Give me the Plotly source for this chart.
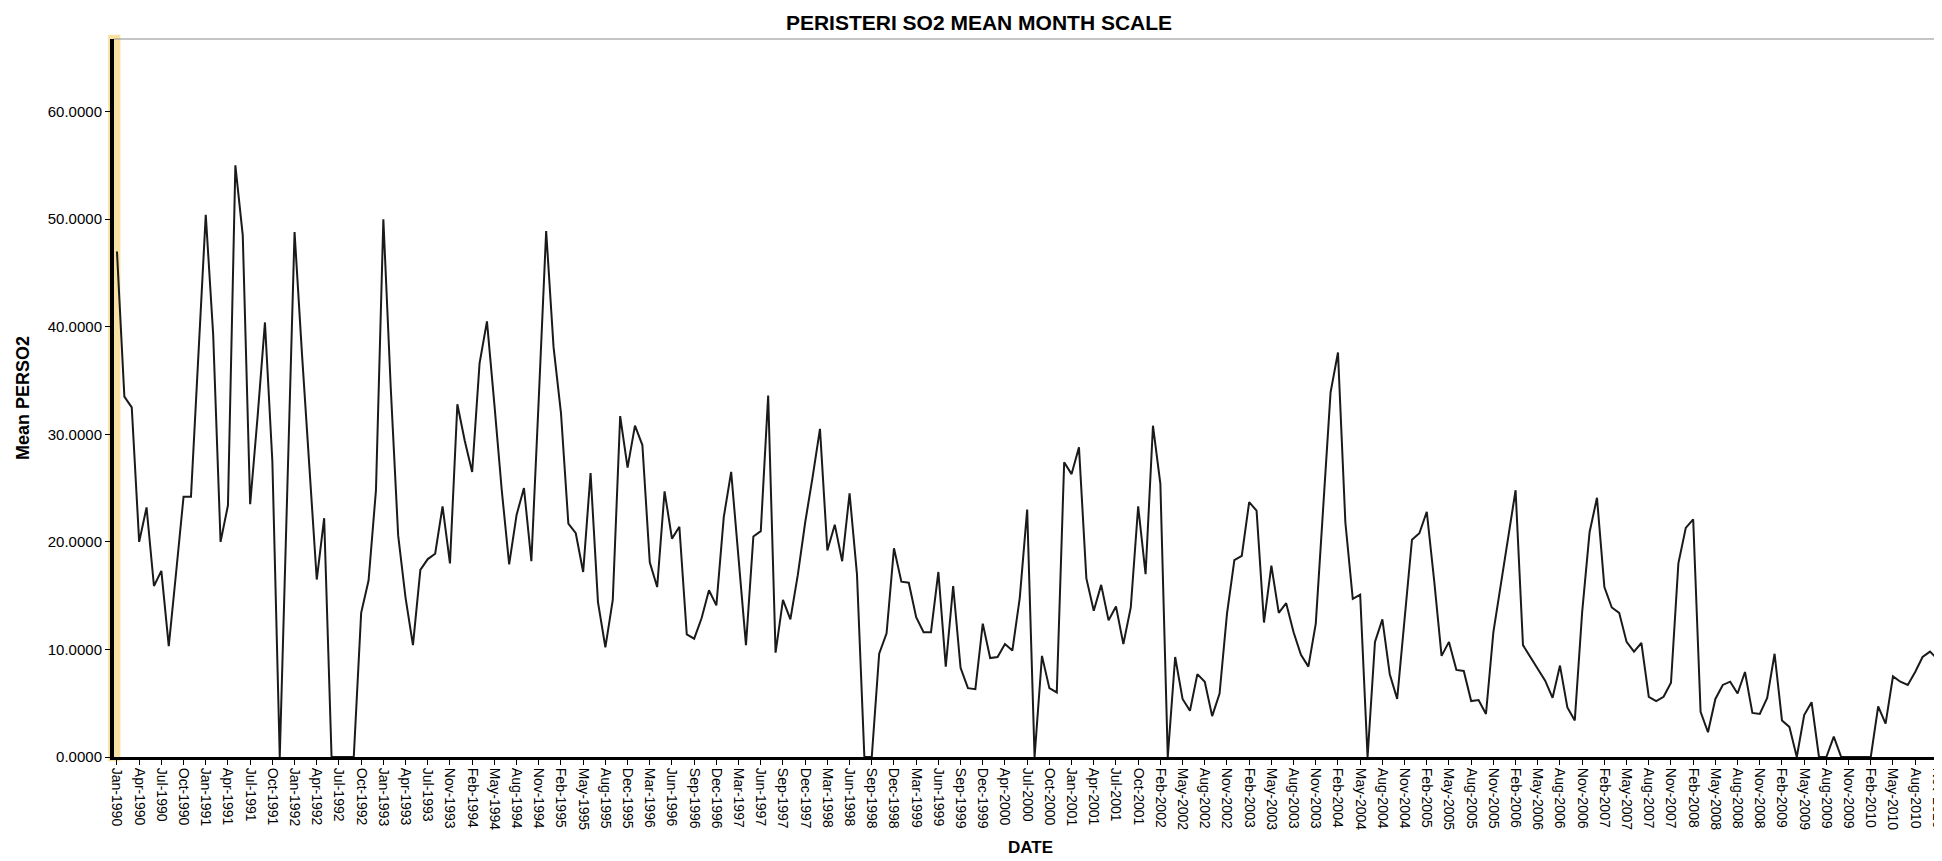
import pandas as pd
import plotly.graph_objects as go

# Months absent from the SPSS series (axis is categorical, so they simply drop out)
missing_months = ["1993-09", "1995-10", "2000-02", "2001-12"]

# Mean PERSO2 per month, Jan-1990 .. Dec-2010
so2_1990 = [47.0, 33.5, 32.5, 20.0, 23.2, 15.9, 17.3, 10.3, 17.2, 24.2, 24.2, 37.8]
so2_1991 = [50.4, 39.3, 20.0, 23.4, 55.0, 48.5, 23.5, 31.6, 40.4, 27.5, 0.0, 24.4]
so2_1992 = [48.8, 37.5, 27.5, 16.5, 22.2, 0.0, 0.0, 0.0, 0.0, 13.4, 16.4, 24.8]
so2_1993 = [50.0, 34.3, 20.6, 14.8, 10.4, 17.4, 18.4, 18.9, 23.3, 18.0, 32.8]
so2_1994 = [29.4, 26.5, 36.6, 40.5, 32.8, 24.8, 17.9, 22.5, 25.0, 18.2, 33.3, 48.9]
so2_1995 = [38.1, 32.0, 21.7, 20.8, 17.2, 26.4, 14.4, 10.2, 14.6, 31.7, 26.9]
so2_1996 = [30.8, 29.0, 18.1, 15.8, 24.7, 20.3, 21.4, 11.4, 11.0, 12.9, 15.5, 14.1]
so2_1997 = [22.3, 26.5, 18.4, 10.4, 20.5, 21.0, 33.6, 9.7, 14.6, 12.8, 16.9, 21.8]
so2_1998 = [26.0, 30.5, 19.2, 21.6, 18.2, 24.5, 17.0, 0.0, 0.0, 9.6, 11.5, 19.4]
so2_1999 = [16.3, 16.2, 13.0, 11.6, 11.6, 17.2, 8.4, 15.9, 8.3, 6.4, 6.3, 12.4]
so2_2000 = [9.2, 9.3, 10.5, 9.9, 14.8, 23.0, 0.0, 9.4, 6.4, 6.0, 27.4]
so2_2001 = [26.3, 28.8, 16.6, 13.6, 16.0, 12.7, 14.0, 10.5, 13.9, 23.3, 17.0]
so2_2002 = [30.8, 25.4, 0.0, 9.3, 5.4, 4.3, 7.7, 7.0, 3.8, 5.9, 13.3, 18.3]
so2_2003 = [18.7, 23.7, 22.9, 12.5, 17.8, 13.4, 14.3, 11.6, 9.5, 8.4, 12.4, 23.7]
so2_2004 = [33.9, 37.6, 21.8, 14.7, 15.1, 0.0, 10.7, 12.8, 7.7, 5.4, 12.9, 20.2]
so2_2005 = [20.8, 22.8, 16.4, 9.4, 10.7, 8.1, 8.0, 5.2, 5.3, 4.0, 11.6, 16.0]
so2_2006 = [20.0, 24.8, 10.4, 9.3, 8.2, 7.1, 5.5, 8.5, 4.6, 3.4, 13.5, 20.9]
so2_2007 = [24.1, 15.8, 13.9, 13.4, 10.7, 9.8, 10.6, 5.6, 5.2, 5.6, 6.9, 18.0]
so2_2008 = [21.3, 22.1, 4.2, 2.3, 5.4, 6.7, 7.0, 5.9, 7.9, 4.1, 4.0, 5.5]
so2_2009 = [9.6, 3.4, 2.8, 0.0, 3.9, 5.1, 0.0, 0.0, 1.9, 0.0, 0.0, 0.0]
so2_2010 = [0.0, 0.0, 4.7, 3.1, 7.5, 7.0, 6.7, 7.9, 9.3, 9.8, 9.1, 6.3]

y_ticks = [0, 10, 20, 30, 40, 50, 60]


def create_dataframe():
    """Build the monthly series with its category labels."""
    months = pd.period_range("1990-01", "2010-12", freq="M")
    months = [m for m in months if str(m) not in missing_months]
    values = (so2_1990 + so2_1991 + so2_1992 + so2_1993 + so2_1994 + so2_1995
              + so2_1996 + so2_1997 + so2_1998 + so2_1999 + so2_2000 + so2_2001
              + so2_2002 + so2_2003 + so2_2004 + so2_2005 + so2_2006 + so2_2007
              + so2_2008 + so2_2009 + so2_2010)
    df = pd.DataFrame({"DATE": [m.strftime("%b-%Y") for m in months],
                       "PERSO2": values})
    return df


def create_figure(df):
    fig = go.Figure()

    fig.add_trace(
        go.Scatter(
            x=df["DATE"],
            y=df["PERSO2"],
            mode="lines",
            line=dict(color="#1a1a1a", width=2),
            hovertemplate="%{x}<br>Mean PERSO2=%{y:.4f}<extra></extra>",
        )
    )

    # SPSS labels every third category
    tick_labels = list(df["DATE"])[::3]

    axis_font = dict(family="Liberation Sans, Arial, sans-serif", color="black")

    fig.update_layout(
        width=1942,
        height=861,
        margin=dict(l=106, r=3, t=31, b=112),
        paper_bgcolor="white",
        plot_bgcolor="white",
        showlegend=False,
        title=dict(
            text="PERISTERI SO2 MEAN MONTH SCALE",
            x=0.5,
            xanchor="center",
            y=1 - 15 / 861,
            yanchor="middle",
            font=dict(family="Liberation Sans, Arial, sans-serif", size=21,
                      color="black", weight="bold"),
        ),
        # selected (highlighted) y axis and the thin top frame line
        shapes=[
            dict(type="rect", xref="paper", yref="paper",
                 x0=-0.0032, x1=0.0035, y0=-0.006, y1=1.006,
                 fillcolor="#F8E1A2", line=dict(width=0), layer="below"),
            dict(type="line", xref="paper", yref="paper",
                 x0=0, x1=1.002, y0=1, y1=1,
                 line=dict(color="#8c8c8c", width=1.2)),
        ],
    )

    fig.update_xaxes(
        type="category",
        range=[-0.4, 247.3],
        tickmode="array",
        tickvals=tick_labels,
        ticktext=tick_labels,
        tickangle=90,
        tickfont=dict(family="Liberation Sans Narrow, Arial Narrow, Liberation Sans, Arial",
                      size=14, color="black"),
        ticklabeloverflow="allow",
        ticks="outside",
        ticklen=5,
        tickcolor="black",
        showline=True,
        linecolor="black",
        linewidth=3,
        showgrid=False,
        zeroline=False,
        automargin=False,
        title=dict(text="DATE", standoff=12,
                   font=dict(size=17, weight="bold", **axis_font)),
    )

    fig.update_yaxes(
        range=[0, 66.75],
        tickmode="array",
        tickvals=y_ticks,
        tickformat=".4f",
        tickfont=dict(size=15, **axis_font),
        ticks="outside",
        ticklen=5,
        tickcolor="black",
        showline=True,
        linecolor="black",
        linewidth=4,
        showgrid=False,
        zeroline=False,
        automargin=False,
        title=dict(text="Mean PERSO2", standoff=14,
                   font=dict(size=18, weight="bold", **axis_font)),
    )

    fig.write_html("out.html")


def main():
    df = create_dataframe()
    create_figure(df)


if __name__ == "__main__":
    main()
